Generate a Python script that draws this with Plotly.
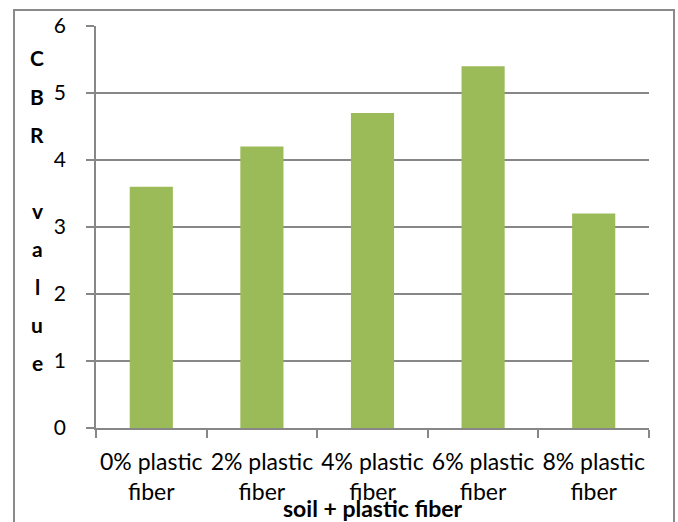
import plotly.graph_objects as go

categories = ["0% plastic<br>fiber", "2% plastic<br>fiber", "4% plastic<br>fiber",
              "6% plastic<br>fiber", "8% plastic<br>fiber"]
cbr_values = [3.6, 4.2, 4.7, 5.4, 3.2]
y_title_letters = ["C", "B", "R", "", "v", "a", "l", "u", "e"]
x_title = "soil + plastic fiber"

FONT = "Lato"
GRID = "#878787"

fig = go.Figure(go.Bar(x=categories, y=cbr_values, marker_color="#9BBB59",
                       marker_line_width=0, width=0.39))

fig.update_layout(
    width=678, height=522,
    margin=dict(l=96, r=29, t=26, b=94, autoexpand=False),
    paper_bgcolor="white", plot_bgcolor="white",
    showlegend=False,
    bargap=0.61,
    font=dict(family=FONT, color="black"),
)
fig.update_xaxes(
    type="category", tickson="boundaries", tickangle=0, automargin=False,
    ticks="outside", ticklen=8, tickcolor=GRID, tickwidth=1.5,
    showline=True, linecolor=GRID, linewidth=1.5,
    showgrid=False, tickfont=dict(size=23, family=FONT),
    ticklabelstandoff=13,
)
fig.update_yaxes(
    range=[0, 6], dtick=1, automargin=False,
    ticks="outside", ticklen=8, tickcolor=GRID, tickwidth=1.5,
    showline=True, linecolor=GRID, linewidth=1.5,
    showgrid=True, gridcolor=GRID, gridwidth=1.5, zeroline=False,
    tickfont=dict(size=21, family=FONT), ticklabelstandoff=16,
)

# vertical stacked y-axis title
plot_h = 522 - 26 - 94
top_px, step_px = 58, 38.0
for i, ch in enumerate(y_title_letters):
    if not ch:
        continue
    ypx = top_px + i * step_px
    fig.add_annotation(text=f"<b>{ch}</b>", xref="paper", yref="paper",
                       x=(37 - 96) / 553, y=(428 - ypx) / plot_h,
                       showarrow=False, font=dict(size=21, family=FONT),
                       xanchor="center", yanchor="middle")

fig.add_annotation(text=f"<b>{x_title}</b>", xref="paper", yref="paper",
                   x=0.5, y=(428 - 508) / plot_h,
                   showarrow=False, font=dict(size=23, family=FONT),
                   xanchor="center", yanchor="middle")

# outer chart border
fig.add_shape(type="rect", xref="paper", yref="paper",
              x0=(14 - 96) / 553, x1=(674 - 96) / 553,
              y0=(428 - 540) / plot_h, y1=(428 - 10) / plot_h,
              line=dict(color="#8a8a8a", width=2), fillcolor="rgba(0,0,0,0)",
              layer="below")

fig.write_html("out.html")
